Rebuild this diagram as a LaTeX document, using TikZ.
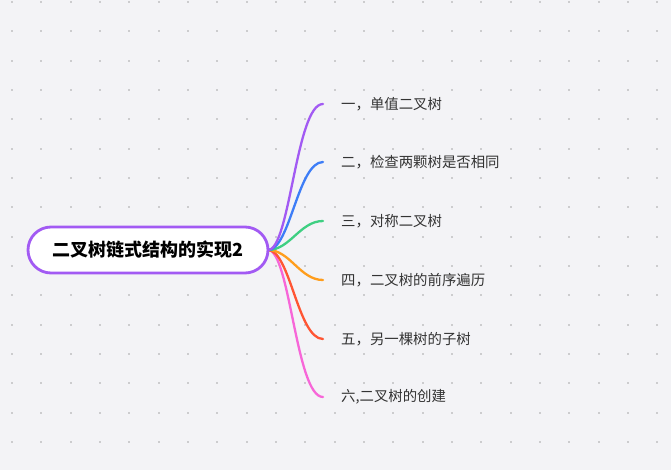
\documentclass[tikz,border=0pt]{standalone}
\usepackage{fontspec}
\setmainfont{Noto Sans CJK SC}
\newfontfamily\cjk{Noto Sans CJK SC}
\definecolor{bgc}{HTML}{F3F3F6}
\definecolor{dotc}{HTML}{CCCCCE}
\definecolor{cpurple}{HTML}{A25AF3}
\definecolor{cblue}{HTML}{3D7DF7}
\definecolor{cgreen}{HTML}{3ECF82}
\definecolor{corange}{HTML}{FF9D1C}
\definecolor{cred}{HTML}{FF5533}
\definecolor{cpink}{HTML}{F766D8}
\definecolor{txt}{HTML}{333333}
\tikzset{
  rootbox/.style={draw=cpurple, line width=2.8pt, fill=white, rounded corners=23pt,
    minimum width=240pt, minimum height=46pt, inner sep=0pt,
    font=\cjk\fontsize{18}{20}\selectfont\bfseries, text=black},
  leaf/.style={anchor=west, inner sep=0pt, font=\cjk\fontsize{14.4}{16}\selectfont, text=txt},
  branch/.style={line width=2.3pt, line cap=round}
}
\begin{document}
\begin{tikzpicture}[x=1pt,y=-1pt]
\fill[bgc] (0,0) rectangle (671,470);
\useasboundingbox (0,0) rectangle (671,470);
\foreach \i in {0,...,22}{
  \foreach \j in {0,...,15}{
    \fill[dotc] ({12+29.33*\i-1},{2+29.33*\j-1}) rectangle ++(2,2);
  }
}
\coordinate (hub) at (268,250);
\coordinate (e1) at (323,104);
\coordinate (e2) at (323,162);
\coordinate (e3) at (323,221);
\coordinate (e4) at (323,280);
\coordinate (e5) at (323,339);
\coordinate (e6) at (323,397);
\draw[branch, cpink] (hub) .. controls (290,250) and (296,397) .. (e6);
\draw[branch, cred] (hub) .. controls (290,250) and (298,339) .. (e5);
\draw[branch, corange] (hub) .. controls (290,250) and (300,280) .. (e4);
\draw[branch, cgreen] (hub) .. controls (290,250) and (300,221) .. (e3);
\draw[branch, cblue] (hub) .. controls (290,250) and (298,162) .. (e2);
\draw[branch, cpurple] (hub) .. controls (290,250) and (296,104) .. (e1);
\node[rootbox] (root) at (148,250) {二叉树链式结构的实现2};
\node[leaf] (l1) at (341,104) {一，单值二叉树};
\node[leaf] (l2) at (341,162) {二，检查两颗树是否相同};
\node[leaf] (l3) at (341,221) {三，对称二叉树};
\node[leaf] (l4) at (341,280) {四，二叉树的前序遍历};
\node[leaf] (l5) at (341,339) {五，另一棵树的子树};
\node[leaf] (l6) at (341,397) {六,二叉树的创建};
\end{tikzpicture}
\end{document}
